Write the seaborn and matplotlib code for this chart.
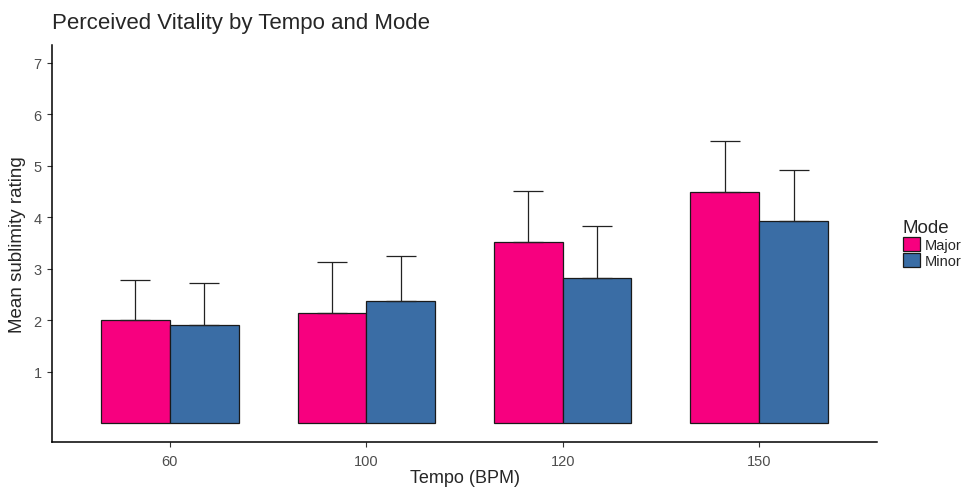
import pandas as pd
import matplotlib
matplotlib.use("Agg")
import matplotlib.pyplot as plt
import seaborn as sb
import numpy as np

# data
tempos = ["60", "100", "120", "150"]
modes = ["Major", "Minor"]
major_mean = [2.00, 2.14, 3.52, 4.49]
minor_mean = [1.92, 2.37, 2.83, 3.93]
major_err = [0.79, 1.00, 1.00, 1.00]
minor_err = [0.80, 0.88, 1.00, 1.00]

df = pd.DataFrame({
    "Tempo": tempos * 2,
    "Mode": ["Major"] * 4 + ["Minor"] * 4,
    "rating": major_mean + minor_mean,
    "err": major_err + minor_err,
})

sb.set_style("white")
plt.rcParams['font.family'] = ['Liberation Sans', 'DejaVu Sans']

fig = plt.figure(figsize=(9.73, 4.89), dpi=100)
ax = fig.add_axes([0.0534, 0.094, 0.848, 0.812])

palette = {"Major": "#F7007F", "Minor": "#3A6DA5"}
sb.barplot(data=df, x="Tempo", y="rating", hue="Mode", order=tempos, hue_order=modes,
           palette=palette, errorbar=None, width=0.7, edgecolor="#1a1a1a", linewidth=0.9,
           saturation=1, ax=ax)

# upper error bars, placed on the bar centres
for cont, m in zip(ax.containers, modes):
    sub = df[df["Mode"] == m].set_index("Tempo").loc[tempos]
    xs = [p.get_x() + p.get_width() / 2 for p in cont.patches]
    ax.errorbar(xs, sub["rating"].values, yerr=[np.zeros(len(xs)), sub["err"].values],
                fmt="none", ecolor="#222222", elinewidth=0.9, capsize=10.5, capthick=0.9, zorder=1)

ax.set_xlim(-0.6, 3.6)
ax.set_ylim(-0.36, 7.35)
ax.set_yticks([1, 2, 3, 4, 5, 6, 7])
for s in ["top", "right"]:
    ax.spines[s].set_visible(False)
for s in ["left", "bottom"]:
    ax.spines[s].set_color("black")
    ax.spines[s].set_linewidth(1.1)
ax.tick_params(axis="both", bottom=True, left=True, length=3.5, width=0.8, color="#333333",
               labelsize=10.5, labelcolor="#4D4D4D", direction="out")
ax.tick_params(axis="x", pad=5)
ax.tick_params(axis="y", pad=4)

ax.set_xlabel("Tempo (BPM)", fontsize=13, labelpad=1)
ax.set_ylabel("Mean sublimity rating", fontsize=13.5, labelpad=5)
fig.text(0.0534, 0.93, "Perceived Vitality by Tempo and Mode", fontsize=16, ha="left", va="bottom")

leg = ax.legend(title="Mode", loc="center left", bbox_to_anchor=(0.928, 0.50),
                bbox_transform=fig.transFigure, frameon=False,
                fontsize=10.5, title_fontsize=13.5, handlelength=1.2, handleheight=1.15,
                handletextpad=0.3, labelspacing=0.05, borderaxespad=0, borderpad=0)
leg._legend_box.align = "left"

fig.savefig("out.png", dpi=100)
